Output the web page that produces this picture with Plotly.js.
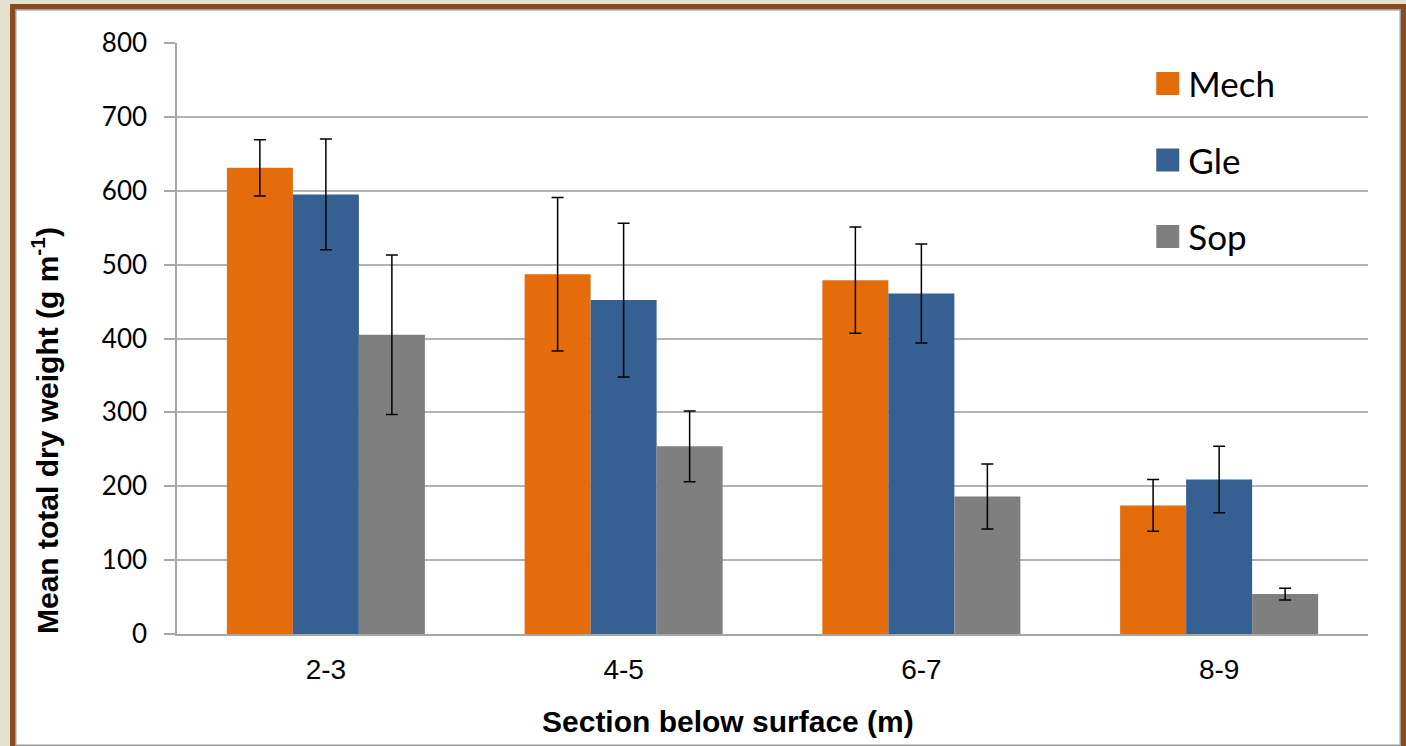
<!DOCTYPE html>
<html>
<head>
<meta charset="utf-8">
<script src="https://cdn.plot.ly/plotly-3.0.1.min.js"></script>
<style>
  html, body { margin: 0; padding: 0; width: 1406px; height: 746px; overflow: hidden; background: #e6e1cf; }
  #frame { position: absolute; left: 10px; top: 4px; width: 1396px; height: 747px; box-sizing: border-box;
           border: 5px solid #8a4b1c; background: #ffffff; box-shadow: inset 0 0 0 1.5px #9c9c9c; }
  #chart { position: absolute; left: 0; top: 0; width: 1406px; height: 746px; }
</style>
</head>
<body>
<div id="frame"></div>
<div id="chart"></div>
<script>
const categories = ["2-3", "4-5", "6-7", "8-9"];
const seriesNames = ["Mech", "Gle", "Sop"];
const mechValues = [631, 487, 479, 174];
const mechErrors = [38, 104, 72, 35];
const gleValues = [595, 452, 461, 209];
const gleErrors = [75, 104, 67, 45];
const sopValues = [405, 254, 186, 54];
const sopErrors = [108, 48, 44, 8];
const yTicks = [0, 100, 200, 300, 400, 500, 600, 700, 800];

const colors = ["#e46c0a", "#376092", "#7f7f7f"];
const values = [mechValues, gleValues, sopValues];
const errors = [mechErrors, gleErrors, sopErrors];

const traces = seriesNames.map((name, i) => ({
  type: "bar",
  name: name,
  x: categories,
  y: values[i],
  legendgroup: name,
  marker: { color: colors[i], line: { width: 0 } },
  error_y: { type: "data", array: errors[i], visible: true, color: "#000000", thickness: 1.5, width: 6 },
  hoverinfo: "x+y+name"
}));

const layout = {
  width: 1406,
  height: 746,
  paper_bgcolor: "rgba(0,0,0,0)",
  plot_bgcolor: "rgba(0,0,0,0)",
  margin: { l: 177, r: 38, t: 43, b: 112, pad: 0 },
  barmode: "group",
  bargap: 0.335,
  bargroupgap: 0,
  showlegend: true,
  legend: {
    x: 0.8155, xanchor: "left",
    y: 0.981, yanchor: "top",
    bgcolor: "rgba(0,0,0,0)",
    font: { family: "Lato, 'Open Sans', sans-serif", size: 35, color: "#000000" },
    traceorder: "grouped",
    tracegroupgap: 28,
    itemclick: false
  },
  xaxis: {
    type: "category",
    showline: true, linecolor: "#a6a6a6", linewidth: 1.5,
    ticks: "",
    showgrid: false,
    tickfont: { family: "'Liberation Sans', Arial, sans-serif", size: 28, color: "#000000" },
    ticklabelstandoff: 10,
    zeroline: false
  },
  yaxis: {
    range: [0, 800],
    tickvals: yTicks,
    ticktext: yTicks.map(String),
    showline: true, linecolor: "#a6a6a6", linewidth: 1.5,
    ticks: "outside", ticklen: 11, tickcolor: "#a6a6a6", tickwidth: 1.5,
    showgrid: true, gridcolor: "#b3b3b3", gridwidth: 1.5,
    zeroline: false,
    tickfont: { family: "Lato, 'Open Sans', sans-serif", size: 26, color: "#000000" },
    ticklabelstandoff: 12
  },
  shapes: [{
    type: "rect", xref: "paper", yref: "paper", layer: "between",
    x0: (1102 - 177) / 1191, x1: (1331 - 177) / 1191,
    y0: (634 - 300) / 591, y1: (634 - 50) / 591,
    fillcolor: "#ffffff", line: { width: 0 }
  }],
  annotations: [
    {
      text: "Mean total dry weight (g m<sup>-1</sup>)",
      xref: "paper", yref: "paper",
      x: (45 - 177) / 1191, y: (634 - 431) / 591,
      xanchor: "center", yanchor: "middle",
      textangle: -90, showarrow: false,
      font: { family: "'Liberation Sans', Arial, sans-serif", size: 30, color: "#000000", weight: "bold" }
    },
    {
      text: "Section below surface (m)",
      xref: "paper", yref: "paper",
      x: (728 - 177) / 1191, y: (634 - 721) / 591,
      xanchor: "center", yanchor: "middle",
      showarrow: false,
      font: { family: "'Liberation Sans', Arial, sans-serif", size: 30, color: "#000000", weight: "bold" }
    }
  ]
};

Plotly.newPlot("chart", traces, layout, { displayModeBar: false }).then(() => {
  document.querySelectorAll("#chart .legendpoints path").forEach(p => {
    p.removeAttribute("transform");
    p.setAttribute("d", "M31,11.5H8V-11.5H31Z");
  });
});
</script>
</body>
</html>
